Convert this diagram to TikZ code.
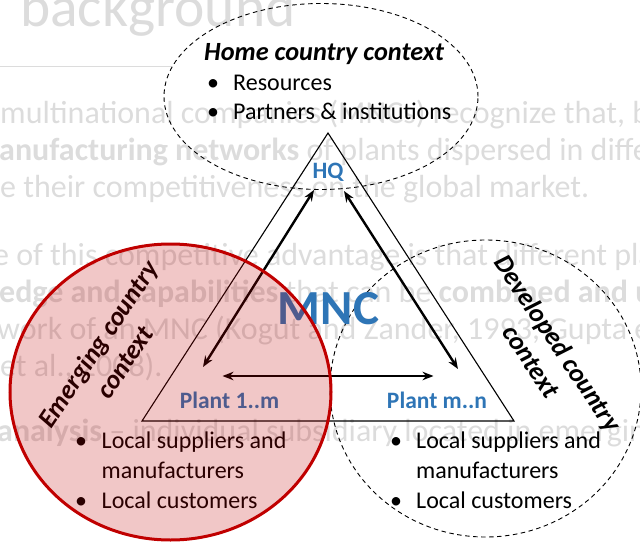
\documentclass[tikz,border=0pt]{standalone}
\usepackage{fontspec}
\setmainfont{Carlito}
\usetikzlibrary{arrows.meta,shapes.geometric}
\definecolor{mncblue}{RGB}{46,117,182}
\definecolor{faded}{RGB}{220,220,220}
\definecolor{emred}{RGB}{192,0,0}
\begin{document}
\begin{tikzpicture}[x=1pt,y=-1pt,
  bgline/.style={anchor=base west, inner sep=0, text=faded, font=\fontsize{32}{37}\selectfont},
  item/.style={anchor=base west, inner sep=0, font=\fontsize{24}{29}\selectfont},
  ctx/.style={inner sep=0, align=center, font=\fontsize{26.5}{32}\selectfont\bfseries\itshape},
  site/.style={inner sep=0, text=mncblue, font=\fontsize{23.5}{28}\selectfont\bfseries},
  link/.style={line width=2.4pt, {Stealth[length=11pt,width=8.5pt]}-{Stealth[length=11pt,width=8.5pt]}},
  zone/.style={draw, ellipse, inner sep=0, line width=0.9pt, dash pattern=on 4.5pt off 3.5pt}]
\useasboundingbox (0,0) rectangle (640,543);

% slide text lying behind the diagram
\begin{scope}
  \clip (0,0) rectangle (640,543);
  \node[anchor=base west, inner sep=0, text=faded, font=\fontsize{57.5}{60}\selectfont] (title) at (20,27) {background};
  \draw[faded, line width=1pt] (0,67) -- (172,67);
  \node[bgline] (t1) at (0,123) {multinational companies (MNCs) recognize that, b};
  \node[bgline] (t2) at (-1,160) {\textbf{anufacturing networks} of plants dispersed in diffe};
  \node[bgline] (t3) at (0,197) {e their competitiveness on the global market.};
  \node[bgline] (t4) at (-7,265) {e of this competitive advantage is that different pla};
  \node[bgline] (t5) at (-1,302) {\textbf{edge and capabilities} that can be \textbf{combined and u}};
  \node[bgline] (t6) at (-3,339) {work of an MNC (Kogut and Zander, 1993; Gupta e};
  \node[bgline] (t7) at (0,376) {et al., 2008).};
  \node[bgline] (t8) at (-3,441) {\textbf{analysis} – individual subsidiary located in emergin};
\end{scope}

% home country context
\node[zone, minimum width=314pt, minimum height=186pt] (home) at (321,96.5) {};
\node[item, font=\fontsize{26.3}{30}\selectfont\bfseries\itshape] (homet) at (204,61) {Home country context};
\node[item] (hb1) at (207,90) {•};
\node[item] (hr1) at (233,90) {Resources};
\node[item] (hb2) at (207,119) {•};
\node[item] (hr2) at (233,119) {Partners \& institutions};

% developed country context
\node[zone, minimum width=311pt, minimum height=297pt] (dev) at (485.5,388.5) {};
\node[ctx, rotate=-56] (devt) at (545,352) {Developed country\\context};
\node[item] (db1) at (390,448) {•};
\node[item] (dr1) at (416,448) {Local suppliers and};
\node[item] (dr2) at (416,478) {manufacturers};
\node[item] (db2) at (390,508) {•};
\node[item] (dr3) at (416,508) {Local customers};

% the MNC triangle
\coordinate (apex) at (328,133);
\coordinate (bl) at (142,421);
\coordinate (br) at (514,421);
\draw[line width=1.1pt, line join=miter] (apex) -- (bl) -- (br) -- cycle;
\node[site] (hq) at (328,172) {HQ};
\node[inner sep=0, text=mncblue, font=\fontsize{49}{52}\selectfont\bfseries] (mnc) at (328.5,309) {MNC};
\node[site] (p1) at (229.5,400) {Plant 1..m};
\node[site] (pn) at (437,400) {Plant m..n};

\coordinate (hqa) at (314,190);
\coordinate (p1a) at (203,367);
\coordinate (hqb) at (344,191);
\coordinate (pnb) at (458,369);
\coordinate (p1c) at (222.5,376);
\coordinate (pnc) at (433.5,376);
\draw[link] (hqa) -- (p1a);
\draw[link] (hqb) -- (pnb);
\draw[link] (p1c) -- (pnc);

% emerging country context
\node[ctx, rotate=56] (emt) at (111,353) {Emerging country\\context};
\node[item] (eb1) at (75,448) {•};
\node[item] (er1) at (101.5,448) {Local suppliers and};
\node[item] (er2) at (101.5,478) {manufacturers};
\node[item] (eb2) at (75,508) {•};
\node[item] (er3) at (101.5,508) {Local customers};
\node[ellipse, inner sep=0, minimum width=321pt, minimum height=296pt,
      fill=emred, fill opacity=0.22, draw=emred, draw opacity=1, line width=3pt] (em) at (170.5,392) {};
\end{tikzpicture}
\end{document}
